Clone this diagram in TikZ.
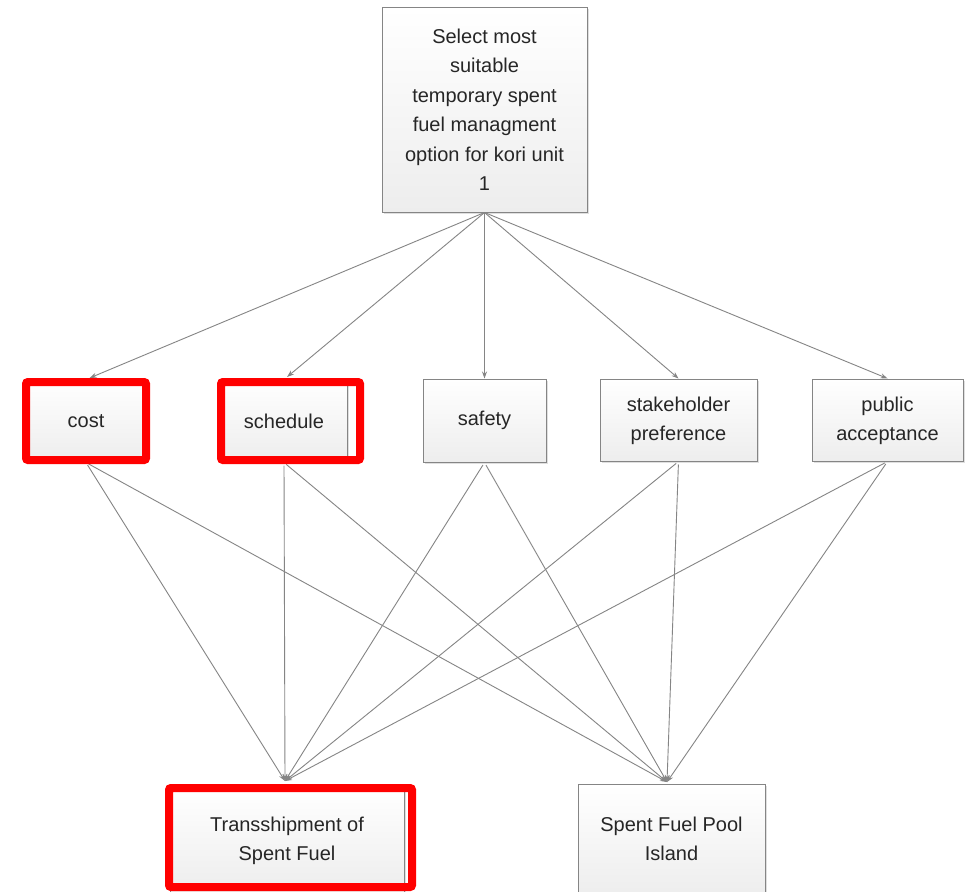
\documentclass[tikz,border=0pt]{standalone}
\usepackage{fontspec}
\setmainfont{Liberation Sans}
\usepackage{tikz}
\usetikzlibrary{arrows.meta, calc, shadows}
\definecolor{boxline}{HTML}{858585}
\definecolor{wire}{HTML}{858585}
\definecolor{mark}{HTML}{FF0000}
\newcommand{\twoline}[2]{\raisebox{-3pt}{\begin{tabular}{@{}c@{}}#1\\#2\end{tabular}}}

\begin{document}
\begin{tikzpicture}[x=1pt, y=-1pt, >={Stealth[length=7pt,width=5pt]},
  every node/.style={font=\fontsize{20}{29.5}\selectfont, text=black!85},
  crit/.style={draw=boxline, line width=1pt, top color=white, bottom color=gray!14,
    drop shadow={opacity=0.25, shadow xshift=1.5pt, shadow yshift=-1.5pt},
    align=center, inner sep=0pt},
  wirel/.style={draw=wire, line width=0.9pt},
  redmark/.style={draw=mark, line width=8pt, rounded corners=2pt}]
\clip (0,0) rectangle (971,891);
\fill[white] (0,0) rectangle (971,891);
% goal
\node[crit, minimum width=205, minimum height=204] (goal) at (484.5,110)
  {Select most\\suitable\\temporary spent\\fuel managment\\option for kori unit\\1};
% criteria
\node[crit, minimum width=116, minimum height=82] (cost) at (86,421) {cost};
\node[crit, minimum width=126, minimum height=82] (sched) at (284,421) {schedule};
\node[crit, minimum width=123, minimum height=83] (safety) at (484.5,420.5) {\raisebox{-1pt}{safety}};
\node[crit, minimum width=157, minimum height=82] (stake) at (678.5,420) {\twoline{stakeholder}{preference}};
\node[crit, minimum width=151, minimum height=82] (public) at (887.5,420) {\twoline{public}{acceptance}};
% alternatives
\node[crit, minimum width=234, minimum height=104] (trans) at (287,840) {\twoline{Transshipment of}{Spent Fuel}};
\node[crit, minimum width=187, minimum height=112] (pool) at (671.5,840) {\twoline{Spent Fuel Pool}{Island}};
\coordinate (tin) at (285,781);
\coordinate (pin) at (667,782);
% goal to criteria
\draw[wirel, ->, shorten >=4pt] (goal.south) -- (cost.north);
\draw[wirel, ->, shorten >=4pt] (goal.south) -- (sched.north);
\draw[wirel, ->] (goal.south) -- (safety.north);
\draw[wirel, ->] (goal.south) -- (stake.north);
\draw[wirel, ->] (goal.south) -- (public.north);
% criteria to alternatives
\foreach \c in {cost, sched, safety, stake, public} {
  \draw[wirel, ->, shorten <=3pt] (\c.south) -- (tin);
  \draw[wirel, ->, shorten <=3pt] (\c.south) -- (pin);
}
% highlights
\draw[redmark] (26,382) rectangle (146,460);
\draw[redmark] (221,382) rectangle (360,460);
\draw[redmark] (169,788) rectangle (412,887);
\end{tikzpicture}
\end{document}
